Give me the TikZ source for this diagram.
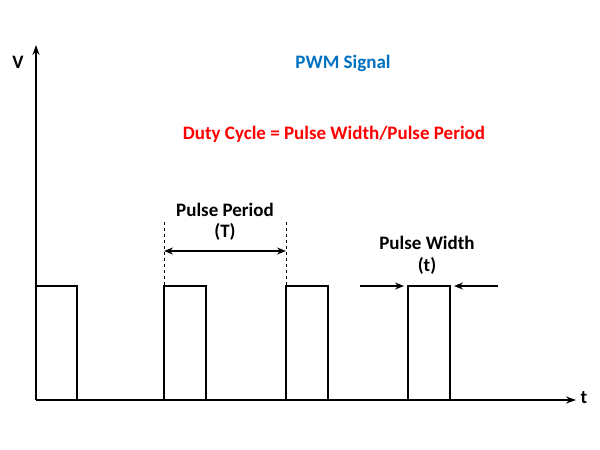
\documentclass[tikz,border=0pt]{standalone}
\usepackage{fontspec}
\setmainfont{Carlito}
\usetikzlibrary{arrows.meta}
\begin{document}
\begin{tikzpicture}[x=1pt,y=-1pt,
  sig/.style={line width=1.6pt},
  lbl/.style={font=\fontsize{19}{21}\selectfont\bfseries, inner sep=0pt},
  arr/.style={line width=1.2pt,-{Stealth[length=9pt,width=7pt]}}]
\useasboundingbox (0,0) rectangle (600,450);
\coordinate (o) at (36,400);
\coordinate (ytop) at (36,45);
\coordinate (xend) at (576,400);
\draw[sig,-{Stealth[length=10pt,width=7pt]}] (o) -- (ytop);
\draw[sig,-{Stealth[length=10pt,width=7pt]}] (o) -- (xend);
\node[lbl] (V) at (18,62) {V};
\node[lbl] (t) at (584,398) {t};
\draw[sig] (36,286) -- (77,286) -- (77,400)
  (164,400) -- (164,286) -- (206,286) -- (206,400)
  (286,400) -- (286,286) -- (328,286) -- (328,400)
  (408,400) -- (408,286) -- (450,286) -- (450,400);
\draw[dashed,line width=1pt] (164,222) -- (164,286) (286,222) -- (286,286);
\coordinate (pa) at (164,251); \coordinate (pb) at (286,251);
\draw[line width=1.2pt,{Stealth[length=9pt,width=7pt]}-{Stealth[length=9pt,width=7pt]}] (pa) -- (pb);
\node[lbl] (pp) at (225,210) {Pulse Period};
\node[lbl] (T) at (225,232) {(T)};
\node[lbl] (pw) at (427,243) {Pulse Width};
\node[lbl] (tt) at (427,266) {(t)};
\coordinate (a1) at (360,286); \coordinate (a2) at (404,286);
\coordinate (b1) at (498,286); \coordinate (b2) at (454,286);
\draw[arr] (a1) -- (a2);
\draw[arr] (b1) -- (b2);
\node[lbl,text={rgb,255:red,0;green,112;blue,192}] (title) at (343,63) {PWM Signal};
\node[lbl,text=red] (duty) at (334,134) {Duty Cycle = Pulse Width/Pulse Period};
\end{tikzpicture}
\end{document}
